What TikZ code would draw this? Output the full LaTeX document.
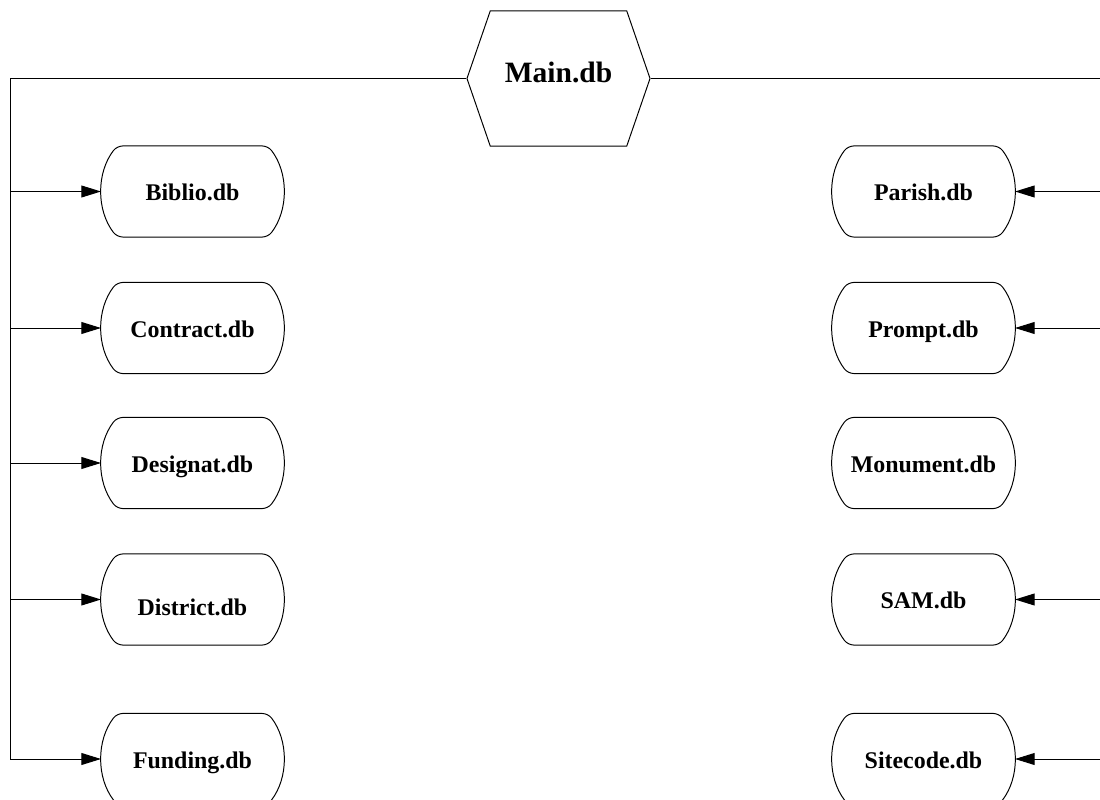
\documentclass[tikz,border=0pt]{standalone}
\usepackage{fontspec}
\setmainfont{Liberation Serif}
\usetikzlibrary{shapes.misc,shapes.symbols,arrows.meta}

\begin{document}
\begin{tikzpicture}[x=0.025cm,y=-0.025cm,line width=0.7pt,
  dbfile/.style={draw,rounded rectangle,rounded rectangle arc length=75,
    minimum width=4.55cm,minimum height=2.275cm,inner sep=0pt,rounded corners=4pt,
    text height=14pt,text depth=1pt,
    font=\fontsize{17}{20}\selectfont\bfseries},
  mainfile/.style={draw,signal,signal to=west and east,signal pointer angle=142,
    minimum width=4.575cm,minimum height=3.375cm,inner sep=0pt,
    font=\fontsize{21}{25}\selectfont\bfseries},
  feed/.style={-{Triangle[length=14pt,width=8.5pt]},sharp corners}]
\useasboundingbox (0,0) rectangle (1100,800);
\clip (0,0) rectangle (1100,800);

\node[mainfile] (main) at (558.5,78.5) {\raisebox{4pt}[\height][\depth]{Main.db}};

\node[dbfile] (biblio)   at (192.5,191.5) {Biblio.db};
\node[dbfile] (contract) at (192.5,328)   {Contract.db};
\node[dbfile] (designat) at (192.5,463)   {Designat.db};
\node[dbfile] (district) at (192.5,599.5) {\raisebox{-5pt}[\height][\depth]{District.db}};
\node[dbfile] (funding)  at (192.5,759)   {Funding.db};

\node[dbfile] (parish)   at (923.5,191.5) {Parish.db};
\node[dbfile] (prompt)   at (923.5,328)   {Prompt.db};
\node[dbfile] (monument) at (923.5,463)   {Monument.db};
\node[dbfile] (sam)      at (923.5,599.5) {SAM.db};
\node[dbfile] (sitecode) at (923.5,759)   {Sitecode.db};

\coordinate (lbus) at (10.5,78.5);
\coordinate (rbus) at (1103,78.5);

\draw[feed] (main.west) -- (lbus) |- (funding.west);
\draw[feed] (lbus |- biblio.west) -- (biblio.west);
\draw[feed] (lbus |- contract.west) -- (contract.west);
\draw[feed] (lbus |- designat.west) -- (designat.west);
\draw[feed] (lbus |- district.west) -- (district.west);

\draw[feed] (main.east) -- (rbus) |- (sitecode.east);
\draw[feed] (rbus |- parish.east) -- (parish.east);
\draw[feed] (rbus |- prompt.east) -- (prompt.east);
\draw[feed] (rbus |- sam.east) -- (sam.east);
\end{tikzpicture}
\end{document}
